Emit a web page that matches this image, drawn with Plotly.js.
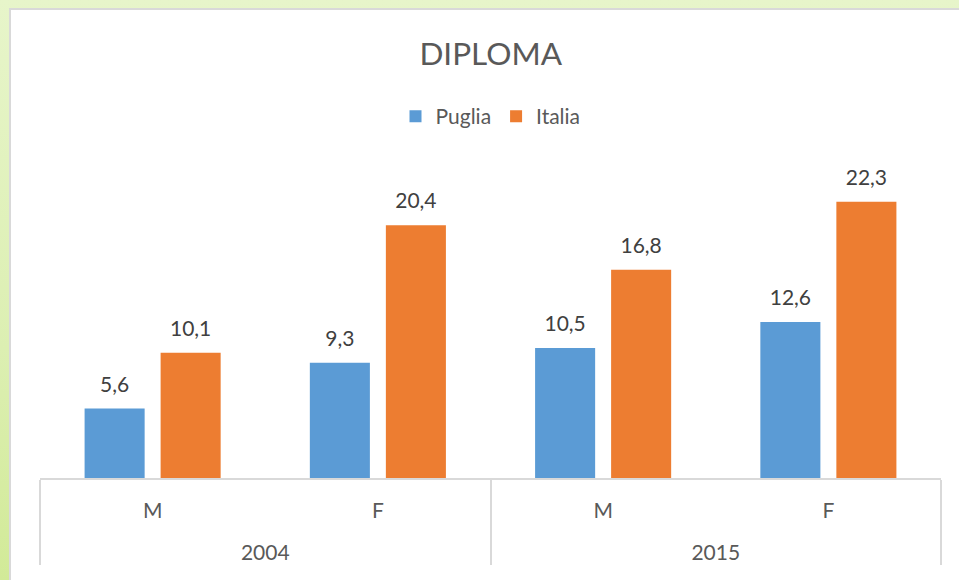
<!DOCTYPE html>
<html>
<head>
<meta charset="utf-8">
<script src="https://cdn.plot.ly/plotly-3.0.1.min.js"></script>
<style>
  html, body { margin: 0; padding: 0; width: 959px; height: 580px; overflow: hidden; }
  body { background: linear-gradient(to bottom, #e7f5ca 0%, #dcefb2 60%, #d2ea98 100%); position: relative; }
  #frame { position: absolute; left: 9px; top: 8px; width: 960px; height: 590px; border-left: 2px solid #d9d9d9; border-top: 2px solid #d9d9d9; background: #ffffff; }
  #chart { position: absolute; left: 0; top: 0; width: 948px; height: 580px; }
</style>
</head>
<body>
<div id="frame"><div id="chart"></div></div>
<script>
// Data
const years = ["2004", "2004", "2015", "2015"];
const sexes = ["M", "F", "M", "F"];
const puglia = [5.6, 9.3, 10.5, 12.6];
const italia = [10.1, 20.4, 16.8, 22.3];
const seriesNames = ["Puglia", "Italia"];
const seriesColors = ["#5b9bd5", "#ed7d31"];
const chartTitle = "DIPLOMA";

const FONT = "Lato, 'Open Sans', sans-serif";
const labelFont = { family: FONT, size: 21, color: "#404040" };

// second-level category labels sit one line lower (as in the reference)
const xcats = [years.map(function (y) { return "<br>" + y; }), sexes];
const seriesValues = [puglia, italia];

const traces = [];
seriesValues.forEach(function (vals, i) {
  traces.push({
    type: "bar", name: seriesNames[i], x: xcats, y: vals,
    marker: { color: seriesColors[i] }, hoverinfo: "skip"
  });
});
// data labels, grouped like the bars
seriesValues.forEach(function (vals, i) {
  traces.push({
    type: "scatter", mode: "markers+text", name: seriesNames[i] + " labels",
    x: xcats, y: vals, showlegend: false, cliponaxis: false,
    marker: { size: 17, opacity: 0, color: seriesColors[i] },
    texttemplate: "%{y:.1f}", textposition: "top center",
    textfont: labelFont, hoverinfo: "skip"
  });
});

const layout = {
  width: 948, height: 580,
  paper_bgcolor: "#ffffff", plot_bgcolor: "#ffffff",
  separators: ",.",
  margin: { l: 29, r: 18, t: 134, b: 112 },
  font: { family: FONT, color: "#595959" },
  title: {
    text: chartTitle,
    font: { family: FONT, size: 31.5, color: "#595959" },
    x: 0.506, xanchor: "center", xref: "container",
    y: 1 - 44 / 580, yanchor: "middle", yref: "container"
  },
  showlegend: true,
  legend: {
    orientation: "h", x: 0.5, xanchor: "center", y: 1.082, yanchor: "middle",
    font: { family: FONT, size: 21, color: "#595959" },
    bgcolor: "rgba(0,0,0,0)", traceorder: "normal"
  },
  barmode: "group",
  bargap: 0.325,
  bargroupgap: 0.21,
  scattermode: "group",
  scattergap: 0.325,
  xaxis: {
    type: "multicategory",
    showline: true, linecolor: "#d9d9d9", linewidth: 2,
    showdividers: true, dividercolor: "#d9d9d9", dividerwidth: 2,
    ticks: "", ticklabelstandoff: 13,
    tickfont: { family: FONT, size: 21, color: "#595959" },
    showgrid: false, zeroline: false, fixedrange: true
  },
  yaxis: {
    visible: false, range: [0, 26.96], showgrid: false, zeroline: false, fixedrange: true
  }
};

Plotly.newPlot("chart", traces, layout, { displayModeBar: false, staticPlot: true });
</script>
</body>
</html>
